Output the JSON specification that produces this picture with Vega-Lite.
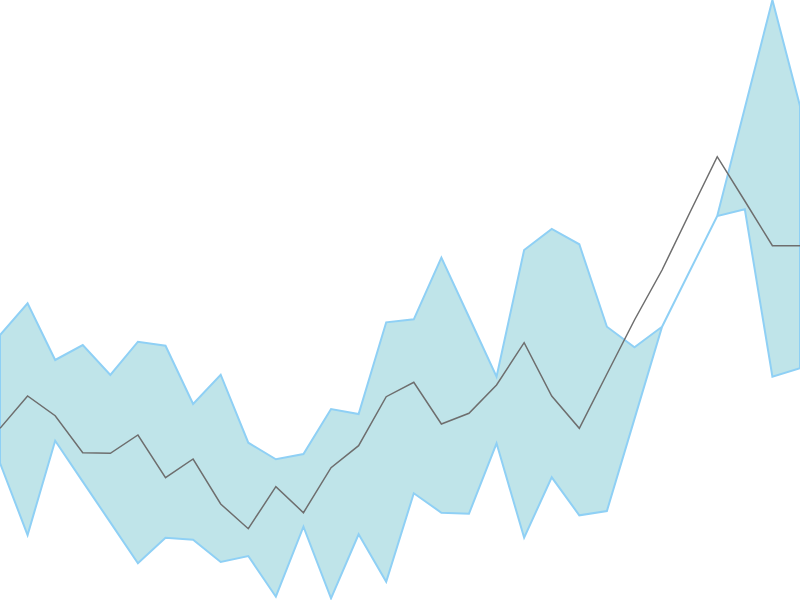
{
  "$schema": "https://vega.github.io/schema/vega-lite/v6.json",
  "autosize": {"type": "none"},
  "width": 800,
  "height": 600,
  "padding": 0,
  "config": {"view": {"stroke": null}},
  "data": {
    "values": [
      {"i": 0, "upper": 265, "lower": 137, "mid": 171.7},
      {"i": 1, "upper": 296.7, "lower": 65, "mid": 204},
      {"i": 2, "upper": 240, "lower": 159.3, "mid": 184.3},
      {"i": 3, "upper": 255, "lower": 118.4, "mid": 147.3},
      {"i": 4, "upper": 225, "lower": 77.6, "mid": 146.7},
      {"i": 5, "upper": 258.3, "lower": 36.7, "mid": 165},
      {"i": 6, "upper": 254.3, "lower": 62.3, "mid": 122.3},
      {"i": 7, "upper": 196, "lower": 60.3, "mid": 141},
      {"i": 8, "upper": 225.3, "lower": 38, "mid": 96},
      {"i": 9, "upper": 157.3, "lower": 44, "mid": 71.3},
      {"i": 10, "upper": 140.7, "lower": 3.3, "mid": 113.3},
      {"i": 11, "upper": 146, "lower": 73.3, "mid": 87.3},
      {"i": 12, "upper": 191, "lower": 1.7, "mid": 132.3},
      {"i": 13, "upper": 186, "lower": 65.7, "mid": 154.3},
      {"i": 14, "upper": 277.7, "lower": 18.3, "mid": 203.3},
      {"i": 15, "upper": 280.7, "lower": 106.7, "mid": 217.7},
      {"i": 16, "upper": 342.3, "lower": 87.3, "mid": 176},
      {"i": 17, "upper": 283, "lower": 86.3, "mid": 186.7},
      {"i": 18, "upper": 223.3, "lower": 156.7, "mid": 215},
      {"i": 19, "upper": 350, "lower": 62.3, "mid": 257.3},
      {"i": 20, "upper": 371, "lower": 122.7, "mid": 204},
      {"i": 21, "upper": 355.7, "lower": 84.7, "mid": 171.7},
      {"i": 22, "upper": 273.3, "lower": 89, "mid": 226},
      {"i": 23, "upper": 252.7, "lower": 181.1, "mid": 280},
      {"i": 24, "upper": 273.3, "lower": 273.3, "mid": 330},
      {"i": 25, "upper": 328.7, "lower": 328.7, "mid": 387},
      {"i": 26, "upper": 384, "lower": 384, "mid": 443.3},
      {"i": 27, "upper": 492, "lower": 390.7, "mid": 399},
      {"i": 28, "upper": 600, "lower": 223.3, "mid": 354.3},
      {"i": 29, "upper": 494, "lower": 231.7, "mid": 354.3}
    ]
  },
  "encoding": {
    "x": {"field": "i", "type": "quantitative", "scale": {"domain": [0, 29], "nice": false, "zero": false}, "axis": null}
  },
  "layer": [
    {
      "mark": {"type": "area", "fill": "#bfe4e9", "stroke": "#8fd0f5", "strokeWidth": 2, "opacity": 1},
      "encoding": {
        "y": {"field": "lower", "type": "quantitative", "scale": {"domain": [0, 600], "nice": false, "zero": false}, "axis": null},
        "y2": {"field": "upper"}
      }
    },
    {
      "mark": {"type": "line", "color": "#6e6e6e", "strokeWidth": 1.5},
      "encoding": {
        "y": {"field": "mid", "type": "quantitative"}
      }
    }
  ]
}
